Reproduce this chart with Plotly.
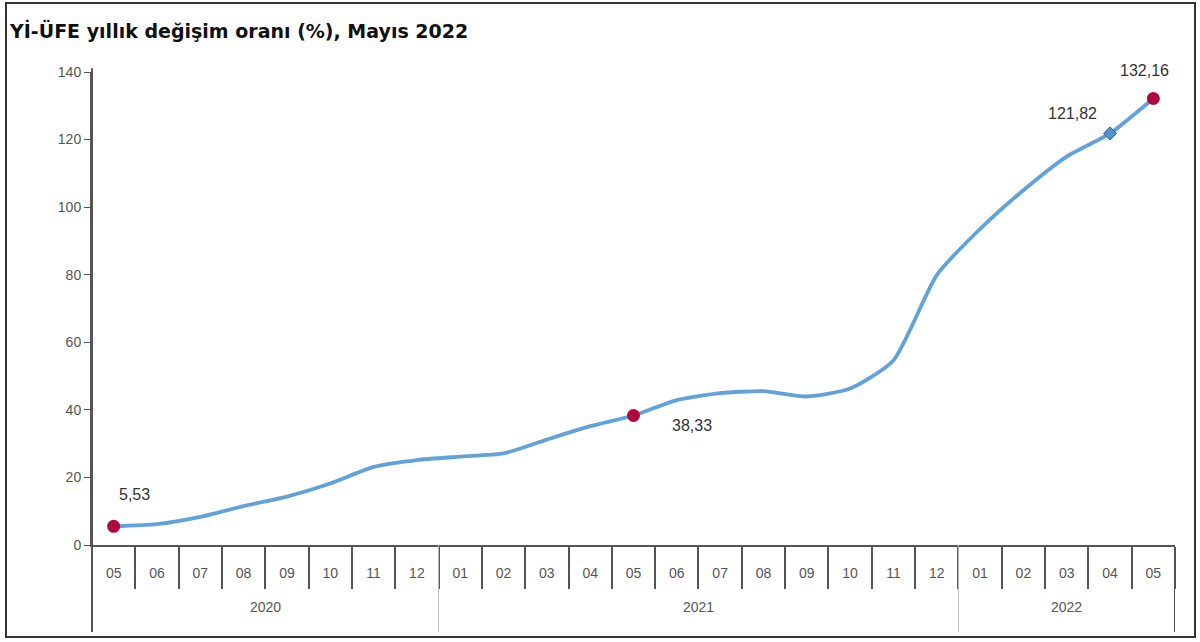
import plotly.graph_objects as go

title = "Yİ-ÜFE yıllık değişim oranı (%), Mayıs 2022"
years = ["2020"] * 8 + ["2021"] * 12 + ["2022"] * 5
months = ["05", "06", "07", "08", "09", "10", "11", "12",
          "01", "02", "03", "04", "05", "06", "07", "08", "09", "10", "11", "12",
          "01", "02", "03", "04", "05"]
values = [5.53, 6.17, 8.33, 11.53, 14.33, 18.20, 23.11, 25.15,
          26.16, 27.09, 31.20, 35.17, 38.33, 42.89, 44.92, 45.52, 43.96, 46.31, 54.62, 79.89,
          93.53, 105.01, 114.97, 121.82, 132.16]
highlight_idx = [0, 12, 24]
blue_idx = [23]
# label offsets in pixels (dx, dy) relative to the point
label_off = {0: (21, 32), 12: (58, -10), 23: (-38, 20), 24: (-9, 28)}

def fmt(v):
    return f"{v:.2f}".replace(".", ",")

xs = list(range(len(values)))

fig = go.Figure()
fig.add_trace(go.Scatter(
    x=xs, y=values, mode="lines",
    line=dict(color="#62a2da", width=3.8, shape="spline", smoothing=0.6),
    hoverinfo="skip", showlegend=False))

fig.add_trace(go.Scatter(
    x=blue_idx, y=[values[i] for i in blue_idx], mode="markers",
    marker=dict(color="#5592cc", size=10, symbol="diamond", line=dict(color="#2f5f8f", width=1)),
    showlegend=False, cliponaxis=False))

fig.add_trace(go.Scatter(
    x=highlight_idx, y=[values[i] for i in highlight_idx], mode="markers",
    marker=dict(color="#b0083c", size=13, symbol="circle"),
    showlegend=False, cliponaxis=False))

W, H = 1200, 642
ml, mr, mt, mb = 92, 25, 72, 97
pw, ph = W - ml - mr, H - mt - mb

def px(xp):
    return (xp - ml) / pw

def py(yp):
    return (H - mb - yp) / ph

groups = []
for i, yv in enumerate(years):
    if not groups or groups[-1][0] != yv:
        groups.append([yv, i, i])
    else:
        groups[-1][2] = i

shapes = [
    dict(type="line", xref="paper", yref="paper", x0=0, x1=0, y0=py(632), y1=1.008,
         line=dict(color="#555555", width=2)),
    dict(type="rect", xref="paper", yref="paper", x0=px(6), x1=px(1195), y0=py(637), y1=py(3),
         line=dict(color="#333333", width=2)),
]
annotations = []
for yv, a, b in groups:
    last = b == len(values) - 1
    shapes.append(dict(type="line", xref="x", yref="paper", x0=b + 0.5, x1=b + 0.5,
                       y0=py(632), y1=0,
                       line=dict(color="#555555" if last else "#bbbbbb", width=2 if last else 1)))
    annotations.append(dict(x=(a + b) / 2, y=py(607), xref="x", yref="paper", text=yv,
                            yanchor="middle", xanchor="center",
                            showarrow=False, font=dict(size=14, color="#555555")))

for i, (dx, dy) in label_off.items():
    annotations.append(dict(x=i, y=values[i], xref="x", yref="y", text=fmt(values[i]),
                            showarrow=False, xshift=dx, yshift=dy,
                            font=dict(family="Liberation Sans, Arial", size=16, color="#333333")))

fig.update_layout(
    width=W, height=H,
    margin=dict(l=ml, r=mr, t=mt, b=mb),
    paper_bgcolor="white", plot_bgcolor="white",
    font=dict(family="Liberation Sans, Arial", size=14, color="#444444"),
    title=dict(text="<b>" + title + "</b>", x=10 / W, xanchor="left", y=1 - 31 / H, yanchor="middle",
               font=dict(size=19, color="#111111", family="DejaVu Sans, Verdana")),
    xaxis=dict(range=[-0.5, len(values) - 0.5], tickmode="array", tickvals=xs, ticktext=months,
               showgrid=False, zeroline=False, showline=True, linecolor="#555555",
               linewidth=2, ticks="", ticklabelstandoff=14,
               tickfont=dict(size=14, color="#555555"),
               minor=dict(tick0=-0.5, dtick=1, ticks="outside", ticklen=42,
                          tickcolor="#555555", tickwidth=2, showgrid=False)),
    yaxis=dict(range=[0, 140], dtick=20, showgrid=False, zeroline=False, showline=True,
               linecolor="#555555", linewidth=2, ticks="outside", ticklen=6,
               tickcolor="#555555", tickfont=dict(size=14, color="#555555")),
    shapes=shapes,
    annotations=annotations,
)

fig.write_html("out.html", config={"displayModeBar": False},
               post_script="document.body.style.margin='0px';")
